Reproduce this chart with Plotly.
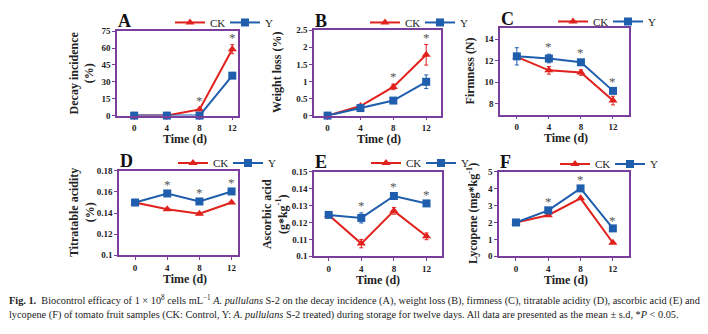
import plotly.graph_objects as go

W, H = 708, 334

days = [0, 4, 8, 12]
tick_days = ["0", "4", "8", "12"]

decay_ck = [0, 0, 5.5, 59]
decay_ck_sd = [0, 0, 1.0, 4.0]
decay_y = [0, 0, 0, 35.5]
decay_y_sd = [0, 0, 0, 1.0]
decay_sig = [8, 12]

wloss_ck = [0, 0.28, 0.84, 1.78]
wloss_ck_sd = [0, 0.03, 0.08, 0.3]
wloss_y = [0, 0.22, 0.44, 0.99]
wloss_y_sd = [0, 0.1, 0.03, 0.2]
wloss_sig = [8, 12]

firm_ck = [12.35, 11.1, 10.9, 8.3]
firm_ck_sd = [0.2, 0.35, 0.25, 0.4]
firm_y = [12.4, 12.2, 11.85, 9.2]
firm_y_sd = [0.8, 0.4, 0.2, 0.2]
firm_sig = [4, 8, 12]

ta_ck = [0.150, 0.1436, 0.1394, 0.150]
ta_ck_sd = [0.001, 0.001, 0.001, 0.001]
ta_y = [0.150, 0.1586, 0.151, 0.1605]
ta_y_sd = [0.001, 0.001, 0.001, 0.001]
ta_sig = [4, 8, 12]

aa_ck = [0.1245, 0.1075, 0.1269, 0.1118]
aa_ck_sd = [0.001, 0.0025, 0.002, 0.002]
aa_y = [0.1245, 0.1227, 0.1357, 0.1313]
aa_y_sd = [0.001, 0.003, 0.001, 0.001]
aa_sig = [4, 8, 12]

lyc_ck = [2.0, 2.43, 3.43, 0.8]
lyc_ck_sd = [0.05, 0.05, 0.05, 0.05]
lyc_y = [2.0, 2.72, 4.02, 1.65]
lyc_y_sd = [0.05, 0.08, 0.08, 0.05]
lyc_sig = [4, 8, 12]

RED = "#E0211D"
BLUE = "#1F5EAD"
FRAME = "#7A3E9D"
FONT = "Liberation Serif"

# panel layout: (letter, ck, ck_sd, y, y_sd, sig, yrange, dtick, ytitle,
#  left, right, top, bottom px, xrange, ytitle x px, xtitle x px, legend x px, legend y px)
panels = [
    ("A", decay_ck, decay_ck_sd, decay_y, decay_y_sd, decay_sig, [0, 75], 15,
     "Decay incidence<br>(%)", 117, 238, 27, 114, [-2.1, 12.7], 82, 185, 225, 18),
    ("B", wloss_ck, wloss_ck_sd, wloss_y, wloss_y_sd, wloss_sig, [0, 2.5], 0.5,
     "Weight loss (%)", 314, 441, 26, 114, [-1.65, 13.8], 277, 379, 420, 18),
    ("C", firm_ck, firm_ck_sd, firm_y, firm_y_sd, firm_sig, [7, 15], 2,
     "Firmness (N)", 500, 629, 24, 113, [-2.1, 14.0], 470, 566, 608, 17),
    ("D", ta_ck, ta_ck_sd, ta_y, ta_y_sd, ta_sig, [0.1, 0.18], 0.02,
     "Titratable acidity<br>(%)", 119, 238, 171, 258, [-2.0, 12.8], 82, 185, 228, 163),
    ("E", aa_ck, aa_ck_sd, aa_y, aa_y_sd, aa_sig, [0.1, 0.15], 0.01,
     "Ascorbic acid<br>(g*kg<sup>-1</sup>)", 314, 442, 172, 259, [-1.8, 13.9], 275, 378, 421, 163),
    ("F", lyc_ck, lyc_ck_sd, lyc_y, lyc_y_sd, lyc_sig, [0, 5], 1,
     "Lycopene (mg*kg<sup>-1</sup>)", 499, 629, 172, 259, [-2.1, 14.0], 472, 566, 610, 164),
]

fig = go.Figure()
annotations = []
layout = {}

for i, (letter, ck, ck_sd, yy, yy_sd, sig, yr, dt, ytitle, L, R, T, B, xr,
        ytx, xtx, lgx, lgy) in enumerate(panels):
    n = i + 1
    xa = "x" if n == 1 else f"x{n}"
    ya = "y" if n == 1 else f"y{n}"
    lg = "legend" if n == 1 else f"legend{n}"
    fig.add_trace(go.Scatter(
        x=days, y=ck, name="CK", mode="lines+markers", xaxis=xa, yaxis=ya, legend=lg,
        line=dict(color=RED, width=2),
        marker=dict(symbol="triangle-up", size=8, color=RED),
        error_y=dict(type="data", array=ck_sd, color=RED, thickness=1, width=2),
        cliponaxis=False))
    fig.add_trace(go.Scatter(
        x=days, y=yy, name="Y", mode="lines+markers", xaxis=xa, yaxis=ya, legend=lg,
        line=dict(color=BLUE, width=2),
        marker=dict(symbol="square", size=8, color=BLUE),
        error_y=dict(type="data", array=yy_sd, color=BLUE, thickness=1, width=2),
        cliponaxis=False))

    axis_common = dict(showline=True, linecolor=FRAME, linewidth=1.5, mirror=True,
                       showgrid=False, zeroline=False, ticks="outside", ticklen=3,
                       tickcolor=FRAME,
                       tickfont=dict(family=FONT, size=9, color="#222", weight="bold"))
    layout["xaxis" if n == 1 else f"xaxis{n}"] = dict(
        domain=[L / W, R / W], range=xr, anchor=ya,
        tickmode="array", tickvals=days, ticktext=tick_days, **axis_common)
    layout["yaxis" if n == 1 else f"yaxis{n}"] = dict(
        domain=[1 - B / H, 1 - T / H], range=yr, dtick=dt, anchor=xa,
        **axis_common)
    layout[lg] = dict(x=lgx / W, y=1 - lgy / H, xanchor="center", yanchor="middle",
                      orientation="h", bgcolor="rgba(0,0,0,0)",
                      font=dict(family=FONT, size=11, color="#222"),
                      itemwidth=30, entrywidth=10, tracegroupgap=0)

    # panel letter
    annotations.append(dict(text=f"<b>{letter}</b>", xref="paper", yref="paper",
                            x=(L - 1) / W, y=1 - (T - 10) / H, xanchor="left",
                            yanchor="middle", showarrow=False,
                            font=dict(family=FONT, size=18, color="#111")))
    # y title
    annotations.append(dict(text=f"<b>{ytitle}</b>", xref="paper", yref="paper",
                            x=ytx / W, y=1 - ((T + B) / 2) / H, textangle=-90,
                            xanchor="center", yanchor="middle", showarrow=False,
                            font=dict(family=FONT, size=12, color="#222")))
    # x title
    annotations.append(dict(text="<b>Time (d)</b>", xref="paper", yref="paper",
                            x=xtx / W, y=1 - (B + 24) / H, xanchor="center",
                            yanchor="middle", showarrow=False,
                            font=dict(family=FONT, size=12, color="#222")))
    # significance stars
    for s in sig:
        k = days.index(s)
        top = max(ck[k] + ck_sd[k], yy[k] + yy_sd[k])
        annotations.append(dict(text="*", xref=xa, yref=ya, x=s, y=top,
                                xanchor="center", yanchor="bottom", yshift=-2,
                                showarrow=False,
                                font=dict(family=FONT, size=13, color="#555")))

cap1 = ("<b>Fig. 1.</b>  Biocontrol efficacy of 1 × 10<sup>8</sup> cells mL<sup>−1</sup> "
        "<i>A. pullulans</i> S-2 on the decay incidence (A), weight loss (B), firmness (C), "
        "titratable acidity (D), ascorbic acid (E) and")
cap2 = ("lycopene (F) of tomato fruit samples (CK: Control, Y: <i>A. pullulans</i> S-2 treated) "
        "during storage for twelve days. All data are presented as the mean ± s.d, "
        "*<i>P</i> &lt; 0.05.")
for txt, yy_px in [(cap1, 305), (cap2, 320)]:
    annotations.append(dict(text=txt, xref="paper", yref="paper", x=7 / W,
                            y=1 - yy_px / H, xanchor="left", yanchor="middle",
                            showarrow=False,
                            font=dict(family=FONT, size=10.3, color="#222")))

fig.update_layout(width=W, height=H, margin=dict(l=0, r=0, t=0, b=0),
                  paper_bgcolor="white", plot_bgcolor="white",
                  showlegend=True, annotations=annotations, **layout)

fig.write_html("out.html")
